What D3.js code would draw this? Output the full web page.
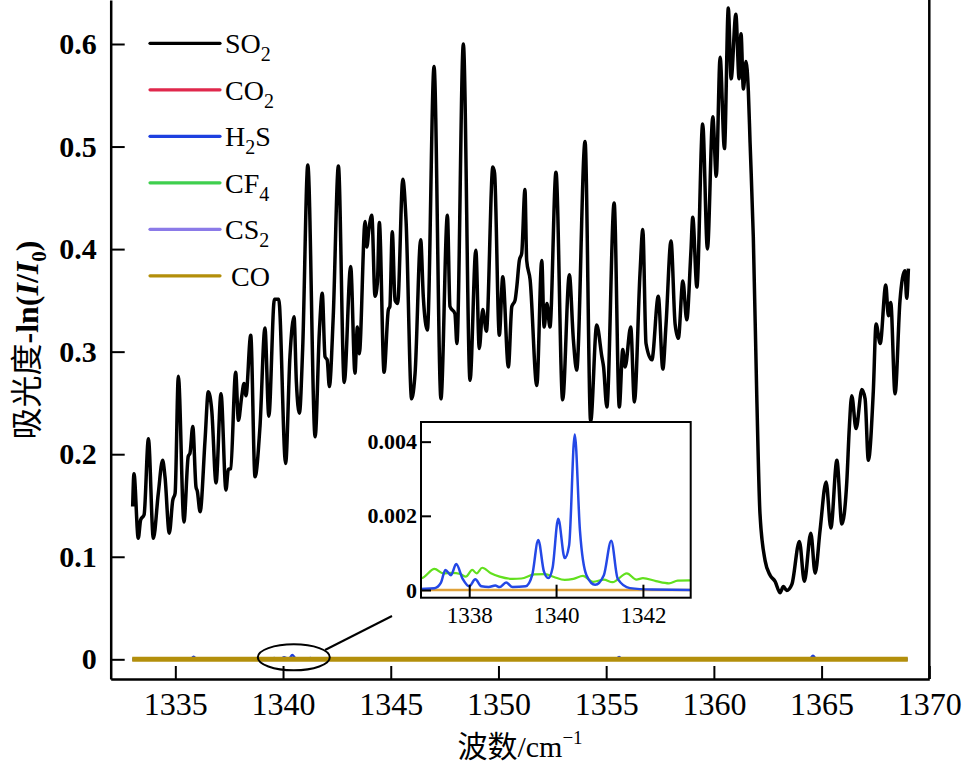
<!DOCTYPE html>
<html>
<head>
<meta charset="utf-8">
<script src="https://cdn.jsdelivr.net/npm/d3@7"></script>
<style>
  html, body { margin: 0; padding: 0; background: #fff; }
  svg { display: block; }
</style>
</head>
<body>
<svg id="chart" width="962" height="766"></svg>
<script>
// ---- data ----
const xTickValues = [1335, 1340, 1345, 1350, 1355, 1360, 1365, 1370];
const yTickValues = [0, 0.1, 0.2, 0.3, 0.4, 0.5, 0.6];
const insetXTicks = [1338, 1340, 1342];
const insetYTicks = [0, 0.002, 0.004];

const species = ["SO2", "CO2", "H2S", "CF4", "CS2", "CO"];

// SO2 absorbance [wavenumber, value]
const so2 = [
  [1333.02,0.149],[1333.08,0.181],[1333.28,0.118],[1333.39,0.136],[1333.55,0.141],
  [1333.75,0.215],[1333.98,0.118],[1334.21,0.162],[1334.41,0.194],[1334.52,0.178],
  [1334.72,0.123],[1334.88,0.155],[1334.99,0.162],[1335.14,0.276],[1335.40,0.134],
  [1335.60,0.198],[1335.68,0.201],[1335.81,0.227],[1335.96,0.168],[1336.02,0.164],
  [1336.15,0.144],[1336.38,0.214],[1336.53,0.261],[1336.69,0.243],[1336.89,0.172],
  [1337.12,0.259],[1337.35,0.165],[1337.46,0.185],[1337.57,0.186],[1337.80,0.280],
  [1337.93,0.233],[1338.08,0.256],[1338.19,0.269],[1338.28,0.257],[1338.50,0.316],
  [1338.70,0.178],[1338.93,0.227],[1339.16,0.323],[1339.34,0.237],[1339.60,0.351],
  [1339.80,0.351],[1340.12,0.191],[1340.32,0.295],[1340.51,0.334],[1340.62,0.270],
  [1340.76,0.240],[1340.91,0.302],[1341.15,0.482],[1341.49,0.217],[1341.69,0.321],
  [1341.82,0.357],[1341.95,0.295],[1342.05,0.292],[1342.15,0.266],[1342.33,0.334],
  [1342.57,0.481],[1342.84,0.270],[1343.14,0.383],[1343.34,0.279],[1343.45,0.324],
  [1343.54,0.298],[1343.81,0.427],[1343.89,0.402],[1343.99,0.420],[1344.12,0.433],
  [1344.27,0.354],[1344.38,0.367],[1344.47,0.426],[1344.69,0.280],[1344.89,0.341],
  [1344.96,0.344],[1345.07,0.417],[1345.20,0.350],[1345.32,0.347],[1345.56,0.468],
  [1345.71,0.428],[1345.97,0.254],[1346.13,0.279],[1346.39,0.409],[1346.51,0.354],
  [1346.70,0.321],[1347.01,0.578],[1347.33,0.254],[1347.63,0.433],[1347.75,0.344],
  [1347.98,0.337],[1348.07,0.308],[1348.37,0.600],[1348.68,0.272],[1348.95,0.399],
  [1349.11,0.303],[1349.27,0.341],[1349.44,0.320],[1349.74,0.480],[1349.82,0.474],
  [1350.04,0.316],[1350.20,0.373],[1350.46,0.285],[1350.62,0.344],[1350.77,0.350],
  [1350.85,0.363],[1350.97,0.389],[1351.08,0.396],[1351.23,0.458],[1351.31,0.389],
  [1351.47,0.370],[1351.78,0.267],[1352.01,0.389],[1352.12,0.324],[1352.25,0.347],
  [1352.39,0.324],[1352.67,0.475],[1352.98,0.253],[1353.29,0.375],[1353.48,0.311],
  [1353.63,0.282],[1354.02,0.505],[1354.28,0.232],[1354.56,0.326],[1354.80,0.295],
  [1354.88,0.285],[1355.03,0.246],[1355.37,0.445],[1355.61,0.246],[1355.77,0.302],
  [1355.88,0.285],[1356.14,0.324],[1356.31,0.251],[1356.57,0.376],[1356.70,0.419],
  [1356.85,0.308],[1357.12,0.292],[1357.42,0.354],[1357.63,0.283],[1357.78,0.327],
  [1358.01,0.408],[1358.20,0.327],[1358.35,0.313],[1358.56,0.369],[1358.74,0.331],
  [1358.93,0.396],[1359.02,0.431],[1359.21,0.363],[1359.48,0.522],[1359.70,0.400],
  [1359.95,0.529],[1360.11,0.471],[1360.29,0.587],[1360.49,0.498],[1360.67,0.635],
  [1360.80,0.566],[1361.02,0.629],[1361.17,0.566],[1361.26,0.610],[1361.37,0.556],
  [1361.49,0.583],[1361.60,0.554],[1361.68,0.504],[1361.83,0.412],[1361.99,0.258],
  [1362.14,0.142],[1362.38,0.096],[1362.61,0.082],[1362.84,0.076],[1363.07,0.065],
  [1363.23,0.071],[1363.38,0.067],[1363.62,0.073],[1363.97,0.115],[1364.20,0.076],
  [1364.50,0.123],[1364.70,0.084],[1364.93,0.126],[1365.21,0.173],[1365.43,0.128],
  [1365.71,0.194],[1365.94,0.132],[1366.17,0.173],[1366.29,0.227],[1366.40,0.257],
  [1366.60,0.225],[1366.87,0.263],[1367.02,0.254],[1367.17,0.194],[1367.40,0.261],
  [1367.53,0.327],[1367.72,0.308],[1367.98,0.365],[1368.10,0.335],[1368.21,0.348],
  [1368.41,0.259],[1368.64,0.350],[1368.87,0.379],[1368.95,0.352],[1369.03,0.381]
];

const co2 = [[1333, 0], [1369, 0]];
const cs2 = [[1333, 0], [1369, 0]];
const co = [[1333, 0], [1369, 0]];

const h2s = [
  [1333.0,0],[1335.70,0],[1335.85,0.0025],[1336.00,0],
  [1336.90,0.00003],[1337.20,0.00005],[1337.35,0.0002],[1337.45,0.00054],[1337.58,0.0004],
  [1337.70,0.0007],[1337.85,0.0003],[1338.00,0.0001],[1338.14,0.00029],[1338.28,0.0001],
  [1338.45,0.00008],[1338.60,0.00012],[1338.70,0.00008],[1338.85,0.0002],[1339.00,0.00008],
  [1339.30,0.0001],[1339.45,0.0004],[1339.59,0.00135],[1339.72,0.0005],[1339.82,0.00032],
  [1339.92,0.0006],[1340.05,0.00192],[1340.20,0.00086],[1340.30,0.0012],[1340.43,0.00419],
  [1340.55,0.0016],[1340.70,0.0004],[1340.90,0.00014],[1341.10,0.0004],[1341.27,0.00133],
  [1341.42,0.0003],[1341.70,0.00005],[1342.20,0.00001],[1343.10,0],
  [1355.45,0],[1355.60,0.0022],[1355.75,0],
  [1364.45,0],[1364.60,0.0035],[1364.75,0],[1369.0,0]
];

const cf4 = [
  [1333.0,0.0003],
  [1336.90,0.00032],[1337.20,0.00057],[1337.40,0.00045],[1337.60,0.00046],[1337.80,0.00043],
  [1337.92,0.00036],[1338.07,0.00054],[1338.17,0.00045],[1338.30,0.0006],[1338.50,0.00045],
  [1338.70,0.00036],[1339.00,0.0003],[1339.20,0.00031],[1339.50,0.00042],[1339.75,0.00043],
  [1339.95,0.00035],[1340.20,0.00027],[1340.40,0.0003],[1340.62,0.00038],[1340.85,0.00022],
  [1341.10,0.00028],[1341.30,0.00021],[1341.63,0.00045],[1341.85,0.00028],[1342.00,0.00032],
  [1342.30,0.00024],[1342.60,0.00018],[1342.80,0.00025],[1343.10,0.00026],
  [1369.0,0.0002]
];

// ---- drawing ----
const svg = d3.select("#chart");
svg.selectAll("*").remove();

const serif = "'Liberation Serif', 'Times New Roman', serif";

const x = d3.scaleLinear().domain([1332, 1370]).range([110.7, 929.3]);
const y = d3.scaleLinear().domain([-0.0192, 0.6429]).range([679, 0]);

const line = d3.line()
  .x(d => x(d[0]))
  .y(d => y(d[1]))
  .curve(d3.curveMonotoneX);

const colors = {
  SO2: "#000000", CO2: "#e0284c", H2S: "#1e40e0",
  CF4: "#3fcf4e", CS2: "#8b7ae8", CO: "#b38f0b"
};

// main curves
svg.append("path").datum(so2)
  .attr("d", line).attr("fill", "none")
  .attr("stroke", colors.SO2).attr("stroke-width", 3.5)
  .attr("stroke-linejoin", "round");

[[co2, "CO2"], [h2s, "H2S"], [cf4, "CF4"], [cs2, "CS2"]].forEach(([d, k]) => {
  svg.append("path").datum(d)
    .attr("d", line).attr("fill", "none")
    .attr("stroke", colors[k]).attr("stroke-width", 2.5);
});

svg.append("path").datum(co)
  .attr("d", line).attr("fill", "none")
  .attr("stroke", colors.CO).attr("stroke-width", 5);

// axes
const xAxis = svg.append("g")
  .attr("transform", "translate(0,679)")
  .call(d3.axisBottom(x).tickValues(xTickValues).tickSize(-13).tickSizeOuter(0).tickPadding(13)
    .tickFormat(d3.format("d")));
const yAxis = svg.append("g")
  .attr("transform", "translate(110.7,0)")
  .call(d3.axisLeft(y).tickValues(yTickValues).tickSize(-14).tickSizeOuter(0).tickPadding(14)
    .tickFormat(d => d === 0 ? "0" : d3.format(".1f")(d)));

[xAxis, yAxis].forEach(g => {
  g.select(".domain").attr("stroke", "#000").attr("stroke-width", 2.5);
  g.selectAll(".tick line").attr("stroke", "#000").attr("stroke-width", 2);
});
xAxis.selectAll(".tick text")
  .attr("font-family", serif).attr("font-size", 32).attr("fill", "#000");
yAxis.selectAll(".tick text")
  .attr("font-family", serif).attr("font-size", 30).attr("font-weight", "bold").attr("fill", "#000");

// right border
svg.append("line")
  .attr("x1", x(1370)).attr("x2", x(1370))
  .attr("y1", 0).attr("y2", 679)
  .attr("stroke", "#000").attr("stroke-width", 2.5);

// axis titles
const xt = svg.append("text")
  .attr("x", 520).attr("y", 757)
  .attr("text-anchor", "middle")
  .attr("font-family", serif + ", 'Noto Sans CJK SC'")
  .attr("font-size", 30).attr("fill", "#000");
xt.append("tspan").text("波数/cm");
xt.append("tspan").attr("dy", -13).attr("font-size", 19).text("−1");

const yt = svg.append("text")
  .attr("transform", "translate(38,340) rotate(-90)")
  .attr("text-anchor", "middle")
  .attr("font-family", serif + ", 'Noto Sans CJK SC'")
  .attr("font-size", 32).attr("fill", "#000");
yt.append("tspan").text("吸光度");
yt.append("tspan").attr("font-weight", "bold").text("-ln(");
yt.append("tspan").attr("font-style", "italic").attr("font-weight", "bold").text("I");
yt.append("tspan").attr("font-weight", "bold").text("/");
yt.append("tspan").attr("font-style", "italic").attr("font-weight", "bold").text("I");
yt.append("tspan").attr("dy", 8).attr("font-size", 21).attr("font-weight", "bold").text("0");
yt.append("tspan").attr("dy", -8).attr("font-weight", "bold").text(")");

// legend
const legendLabels = [
  ["SO", "2"], ["CO", "2"], ["H", "2", "S"], ["CF", "4"], ["CS", "2"], ["CO"]
];
const leg = svg.append("g");
species.forEach((k, i) => {
  const ly = 43.3 + i * 46.5;
  leg.append("line")
    .attr("x1", 150).attr("x2", 220).attr("y1", ly).attr("y2", ly)
    .attr("stroke", colors[k]).attr("stroke-width", 3.2)
    .attr("stroke-linecap", "round");
  const t = leg.append("text")
    .attr("x", k === "CO" ? 231 : 225).attr("y", ly + 10)
    .attr("font-family", serif).attr("font-size", 28).attr("fill", "#000");
  const parts = legendLabels[i];
  t.append("tspan").text(parts[0]);
  if (parts[1]) t.append("tspan").attr("dy", 8).attr("font-size", 20).text(parts[1]);
  if (parts[2]) t.append("tspan").attr("dy", -8).text(parts[2]);
});

// callout ellipse + leader line
svg.append("ellipse")
  .attr("cx", x(1340.5)).attr("cy", y(0) - 2)
  .attr("rx", 36).attr("ry", 13)
  .attr("fill", "none").attr("stroke", "#000").attr("stroke-width", 2);
svg.append("line")
  .attr("x1", 325).attr("y1", 650).attr("x2", 392).attr("y2", 616)
  .attr("stroke", "#000").attr("stroke-width", 2);

// ---- inset ----
const ix = d3.scaleLinear().domain([1336.89, 1343.1]).range([421, 690.7]);
const iy = d3.scaleLinear().domain([-0.000208, 0.00453]).range([597.7, 422]);

const inset = svg.append("g");
inset.append("rect")
  .attr("x", 421).attr("y", 422).attr("width", 690.7 - 421).attr("height", 597.7 - 422)
  .attr("fill", "#fff");

svg.append("clipPath").attr("id", "insetClip")
  .append("rect")
  .attr("x", 421).attr("y", 422).attr("width", 690.7 - 421).attr("height", 597.7 - 422);

const iline = d3.line()
  .x(d => ix(d[0]))
  .y(d => iy(d[1]))
  .curve(d3.curveMonotoneX);

const plotIn = inset.append("g").attr("clip-path", "url(#insetClip)");
plotIn.append("path").datum(co).attr("d", iline).attr("fill", "none")
  .attr("stroke", "#e0a23a").attr("stroke-width", 2.5);
plotIn.append("path").datum(cf4).attr("d", iline).attr("fill", "none")
  .attr("stroke", "#62e01e").attr("stroke-width", 2.2);
plotIn.append("path").datum(h2s).attr("d", iline).attr("fill", "none")
  .attr("stroke", "#2448e6").attr("stroke-width", 2.5);

const ixAxis = inset.append("g")
  .attr("transform", "translate(0,597.7)")
  .call(d3.axisBottom(ix).tickValues(insetXTicks).tickSize(-13).tickSizeOuter(0).tickPadding(9)
    .tickFormat(d3.format("d")));
const iyAxis = inset.append("g")
  .attr("transform", "translate(421,0)")
  .call(d3.axisLeft(iy).tickValues(insetYTicks).tickSize(-10).tickSizeOuter(0).tickPadding(4)
    .tickFormat(d => d === 0 ? "0" : d3.format(".3f")(d)));
[ixAxis, iyAxis].forEach(g => {
  g.select(".domain").remove();
  g.selectAll(".tick line").attr("stroke", "#000").attr("stroke-width", 2);
});
ixAxis.selectAll(".tick text")
  .attr("font-family", serif).attr("font-size", 23).attr("fill", "#000");
iyAxis.selectAll(".tick text")
  .attr("font-family", serif).attr("font-size", 22).attr("font-weight", "bold").attr("fill", "#000");

inset.append("rect")
  .attr("x", 421).attr("y", 422).attr("width", 690.7 - 421).attr("height", 597.7 - 422)
  .attr("fill", "none").attr("stroke", "#000").attr("stroke-width", 2);
</script>
</body>
</html>
